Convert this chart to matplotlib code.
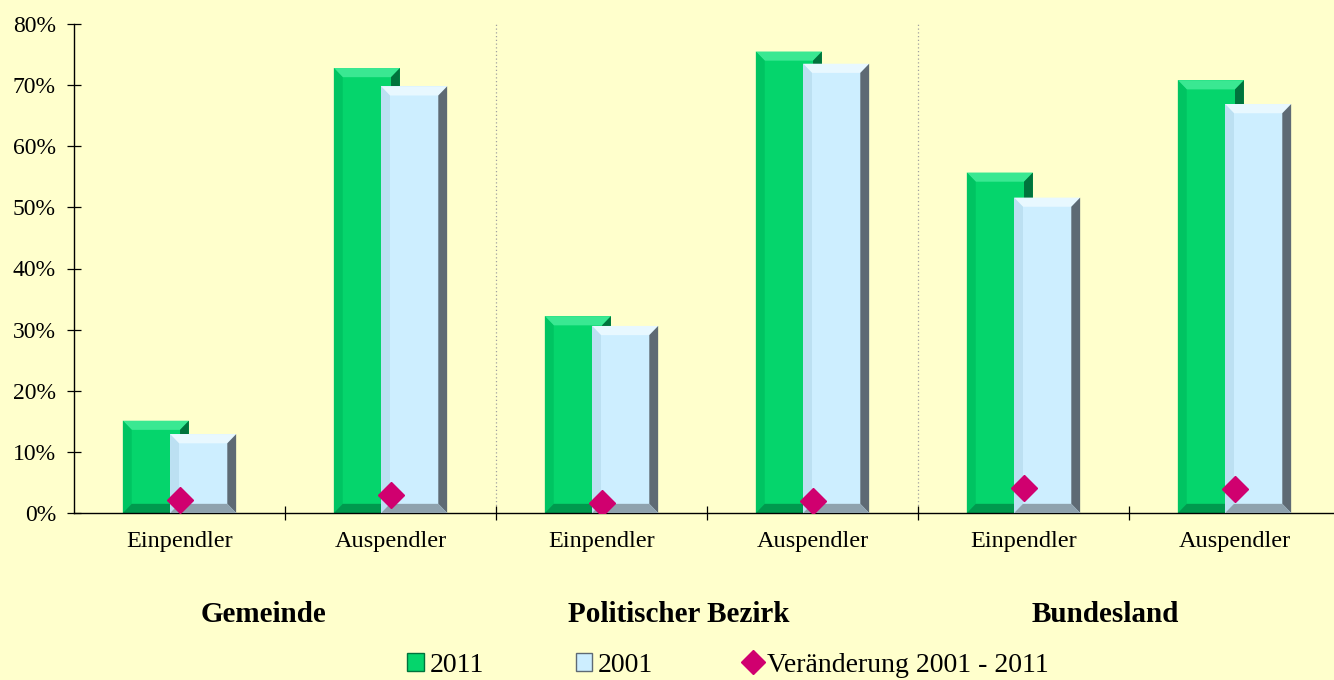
import matplotlib.pyplot as plt
import matplotlib.patches as patches
from matplotlib.lines import Line2D
from matplotlib.ticker import PercentFormatter

# data
categories = ["Einpendler", "Auspendler", "Einpendler", "Auspendler", "Einpendler", "Auspendler"]
groups = ["Gemeinde", "Politischer Bezirk", "Bundesland"]
values_2011 = [15.1, 72.8, 32.2, 75.5, 55.7, 70.8]
values_2001 = [12.9, 69.8, 30.6, 73.5, 51.6, 66.9]
change = [2.2, 3.0, 1.6, 2.0, 4.1, 3.9]

bg = "#FFFFCC"
green = dict(face="#05D56C", top="#3AE892", left="#00C462", right="#00733C", bottom="#00994E")
blue = dict(face="#CDEEFF", top="#E8F8FF", left="#BCE0F2", right="#5E6A74", bottom="#8FA2AE")

plt.rcParams['font.family'] = ['Liberation Serif', 'DejaVu Serif']

fig = plt.figure(figsize=(13.34, 6.8), dpi=100, facecolor=bg)
ax = fig.add_axes([74 / 1334, 1 - 513 / 680, (1340 - 74) / 1334, (513 - 24) / 680])
ax.set_facecolor(bg)

x = list(range(len(categories)))
width = 0.313
offset = 0.112


def bevel(ax, bar, c, bx=0.042, by=1.5):
    # draw a bevelled look on top of a plain bar
    x0, y0 = bar.get_x(), bar.get_y()
    w, h = bar.get_width(), bar.get_height()
    x1, y1 = x0 + w, y0 + h
    ix0, ix1 = x0 + bx, x1 - bx
    iy0, iy1 = y0 + by, y1 - by
    z = bar.get_zorder() + 0.1
    polys = [
        ([(x0, y1), (x1, y1), (ix1, iy1), (ix0, iy1)], c["top"]),
        ([(x0, y0), (x0, y1), (ix0, iy1), (ix0, iy0)], c["left"]),
        ([(x1, y0), (x1, y1), (ix1, iy1), (ix1, iy0)], c["right"]),
        ([(x0, y0), (x1, y0), (ix1, iy0), (ix0, iy0)], c["bottom"]),
    ]
    for pts, col in polys:
        ax.add_patch(patches.Polygon(pts, closed=True, facecolor=col, edgecolor="none", zorder=z))


bars_2011 = ax.bar([i - offset for i in x], values_2011, width, color=green["face"], zorder=2)
for b in bars_2011:
    bevel(ax, b, green)
bars_2001 = ax.bar([i + offset for i in x], values_2001, width, color=blue["face"], zorder=3)
for b in bars_2001:
    bevel(ax, b, blue)

ax.plot(x, change, linestyle="none", marker="D", markersize=13, color="#D0006F", zorder=5)

# separators between groups
for sep in [1.5, 3.5]:
    ax.axvline(sep, color="#A0A0A0", linestyle=(0, (1, 2)), linewidth=0.9, zorder=1)

ax.set_xlim(-0.5, 5.5)
ax.set_ylim(0, 80)
ax.yaxis.set_major_formatter(PercentFormatter(decimals=0))
ax.set_yticks(range(0, 81, 10))
ax.set_xticks(x)
ax.set_xticklabels(categories)
ax.set_xticks([0.5, 1.5, 2.5, 3.5, 4.5], minor=True)
ax.tick_params(axis="x", which="major", length=0, pad=13, labelsize=17.5)
ax.tick_params(axis="x", which="minor", direction="inout", length=10, width=0.9)
ax.tick_params(axis="y", direction="inout", length=10, width=0.9, pad=8, labelsize=17)

for s in ["top", "right"]:
    ax.spines[s].set_visible(False)
for s in ["left", "bottom"]:
    ax.spines[s].set_linewidth(1.0)

# group labels below the axis
group_x = [0.40, 2.367, 4.386]
for gx, name in zip(group_x, groups):
    ax.text(gx, -16.6, name, ha="center", va="center", fontsize=21, fontweight="bold")

handles = [
    patches.Patch(facecolor=green["face"], edgecolor=green["right"], linewidth=1),
    patches.Patch(facecolor=blue["face"], edgecolor=blue["right"], linewidth=1),
    Line2D([], [], linestyle="none", marker="D", markersize=12, color="#D0006F"),
]
fig.legend(handles, ["2011", "2001", "Veränderung 2001 - 2011"], ncol=3, frameon=False,
           loc="center", bbox_to_anchor=(728 / 1334, 1 - 665 / 680), fontsize=20,
           handlelength=0.6, handleheight=0.6, handletextpad=0.2, columnspacing=3.3)

fig.savefig("out.png", dpi=100, facecolor=bg)
